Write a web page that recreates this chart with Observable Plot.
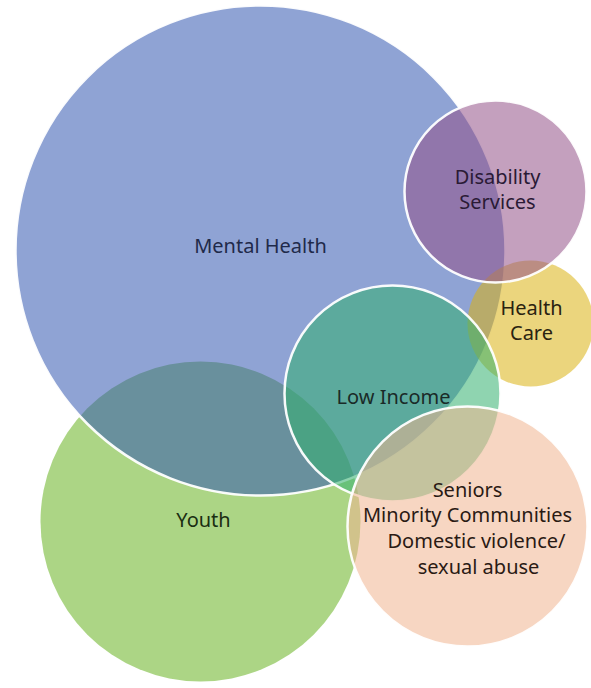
<!DOCTYPE html>
<html>
<head>
<meta charset="utf-8">
<script src="https://cdn.jsdelivr.net/npm/d3@7"></script>
<script src="https://cdn.jsdelivr.net/npm/@observablehq/plot@0.6"></script>
<style>
  html, body { margin: 0; padding: 0; background: #fff; }
  #chart svg { display: block; }
</style>
</head>
<body>
<div id="chart"></div>
<script>
// Circles, in drawing order (bottom to top)
const names   = ["Youth", "Mental Health", "Health Care", "Disability Services", "Low Income", "Seniors / Minority / DV"];
const centerX = [200, 260, 530, 495, 392, 467];
const centerY = [521, 250, 323, 191, 393, 526];
const radius  = [160, 245, 63, 91, 108, 120];
const outlined = [false, true, false, true, true, true];

// Labels
const labelText = ["Mental Health", "Disability", "Services", "Health", "Care", "Low Income",
                   "Seniors", "Minority Communities", "Domestic violence/", "sexual abuse", "Youth"];
const labelX = [260, 497, 497, 531, 531, 393, 467, 467, 476, 478, 203];
const labelY = [246, 177, 202, 308, 333, 397, 490, 515, 541, 567, 520];

// Styles
const palette = ["#68b221", "#3358b1", "#dbb313", "#945289", "#33b16f", "#f0b490"];
const textColor = ["#1f2a4a", "#2a1a35", "#2a1a35", "#2a2210", "#2a2210", "#1a2a28",
                   "#2a1a14", "#2a1a14", "#2a1a14", "#2a1a14", "#1a2e12"];

const circles = names.map((n, i) => ({name: n, x: centerX[i], y: centerY[i], r: radius[i], outlined: outlined[i], i}));
const labels = labelText.map((t, i) => ({text: t, x: labelX[i], y: labelY[i], i}));

const chart = Plot.plot({
  width: 591,
  height: 688,
  margin: 0,
  x: {domain: [0, 591], axis: null},
  y: {domain: [0, 688], reverse: true, axis: null},
  r: {type: "identity"},
  color: {domain: names, range: palette},
  marks: [
    Plot.dot(circles, {
      x: "x", y: "y", r: "r",
      sort: null,
      fill: "name",
      fillOpacity: 0.55,
      stroke: "white",
      strokeWidth: d => d.outlined ? 2.5 : 0,
      strokeOpacity: 0.95
    }),
    Plot.text(labels, {
      x: "x", y: "y", text: "text",
      fill: d => textColor[d.i],
      fontSize: 20,
      fontFamily: "'Noto Sans', Lato, sans-serif",
      textAnchor: "middle",
      lineAnchor: "middle"
    })
  ]
});
document.getElementById("chart").appendChild(chart);
</script>
</body>
</html>
